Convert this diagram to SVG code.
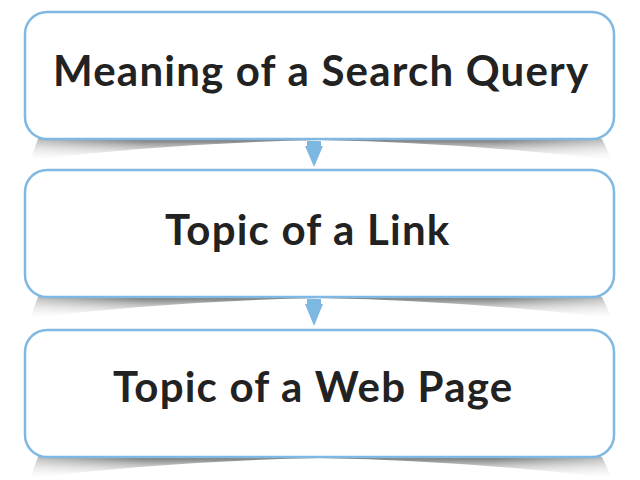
<svg xmlns="http://www.w3.org/2000/svg" width="640" height="480" viewBox="0 0 640 480">
<defs>
<style>
.box{fill:#fff;stroke:#7fb9e3;stroke-width:2.5}
.lbl{font-family:Lato,"Open Sans",sans-serif;font-weight:700;font-size:42px;fill:#222;letter-spacing:1.2px}
.arr{fill:#7db8e2}
</style>
<linearGradient id="sh" x1="0" y1="0" x2="0" y2="1">
<stop offset="0" stop-color="#555" stop-opacity="0.85"/>
<stop offset="0.5" stop-color="#999" stop-opacity="0.45"/>
<stop offset="1" stop-color="#ddd" stop-opacity="0.05"/>
</linearGradient>
<linearGradient id="hz" x1="0" y1="0" x2="1" y2="0">
<stop offset="0" stop-color="#fff" stop-opacity="0.45"/>
<stop offset="0.2" stop-color="#fff" stop-opacity="1"/>
<stop offset="0.8" stop-color="#fff" stop-opacity="1"/>
<stop offset="1" stop-color="#fff" stop-opacity="0.45"/>
</linearGradient>
<mask id="hm" maskContentUnits="objectBoundingBox"><rect x="0" y="0" width="1" height="1" fill="url(#hz)"/></mask>
<path id="shadow" d="M38,0 L602,0 L612,21 Q470,4 320,1 Q170,4 30,21 Z" fill="url(#sh)" mask="url(#hm)"/>
</defs>
<g id="shadows">
<use href="#shadow" x="0" y="139"/>
<use href="#shadow" x="0" y="297"/>
<use href="#shadow" x="0" y="457"/>
</g>
<g id="node1"><rect class="box" x="25" y="12" width="589" height="127" rx="22"/><text class="lbl" x="53" y="86" letter-spacing="1.35">Meaning of a Search Query</text></g>
<g id="node2"><rect class="box" x="25" y="170" width="589" height="127" rx="22"/><text class="lbl" x="165" y="245">Topic of a Link</text></g>
<g id="node3"><rect class="box" x="25" y="330" width="589" height="127" rx="22"/><text class="lbl" x="113" y="402">Topic of a Web Page</text></g>
<g id="connectors">
<polygon class="arr" points="307,141 321,141 321,146 323,146 314,167 305,146 307,146"/>
<polygon class="arr" points="307,299 321,299 321,304 323,304 314,326 305,304 307,304"/>
</g>
</svg>
